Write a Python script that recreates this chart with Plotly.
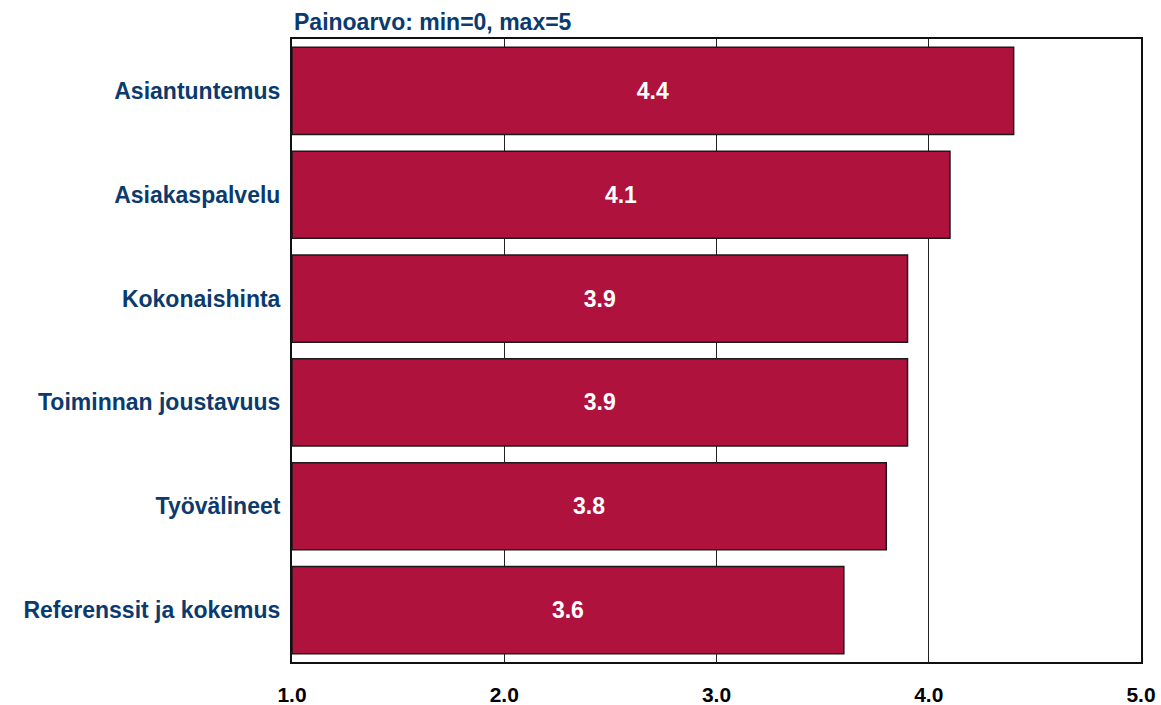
import plotly.graph_objects as go

categories = ["Asiantuntemus", "Asiakaspalvelu", "Kokonaishinta",
              "Toiminnan joustavuus", "Työvälineet", "Referenssit ja kokemus"]
values = [4.4, 4.1, 3.9, 3.9, 3.8, 3.6]
tick_vals = [1, 2, 3, 4, 5]
tick_text = ["1.0", "2.0", "3.0", "4.0", "5.0"]
axis_start = 1.0

FONT = "Liberation Sans"
BLUE = "#0B3A6E"

fig = go.Figure()
fig.add_trace(go.Bar(
    y=categories,
    x=[v - axis_start for v in values],
    base=axis_start,
    orientation="h",
    width=0.84,
    marker=dict(color="#B0123E", line=dict(color="#1a1a1a", width=1.5)),
    text=[f"{v:.1f}" for v in values],
    textposition="inside",
    insidetextanchor="middle",
    textfont=dict(color="white", size=23, family=FONT, weight="bold"),
    hoverinfo="skip",
))

fig.update_layout(
    width=1161, height=705,
    margin=dict(l=292, r=20, t=39, b=43),
    paper_bgcolor="white", plot_bgcolor="white",
    showlegend=False,
    font=dict(family=FONT),
    xaxis=dict(
        range=[1, 5], tickvals=tick_vals, ticktext=tick_text,
        automargin=False, ticklabeloverflow="allow",
        showgrid=True, gridcolor="#222222", gridwidth=1,
        showline=True, linecolor="#111111", linewidth=2, mirror=True,
        ticks="outside", ticklen=13, tickcolor="rgba(0,0,0,0)",
        tickfont=dict(size=21, color="black", family=FONT, weight="bold"),
        zeroline=False,
    ),
    yaxis=dict(
        autorange="reversed", automargin=False,
        showline=True, linecolor="#111111", linewidth=2, mirror=True,
        showgrid=False,
        ticks="outside", ticklen=5, tickcolor="rgba(0,0,0,0)",
        tickfont=dict(size=23, color=BLUE, family=FONT, weight="bold"),
    ),
    annotations=[dict(
        text="Painoarvo: min=0, max=5", xref="paper", yref="paper",
        x=0, y=1, xanchor="left", yanchor="bottom", yshift=2, showarrow=False,
        font=dict(size=23, color=BLUE, family=FONT, weight="bold"),
    )],
)

fig.write_html(
    "out.html",
    config={"displayModeBar": False},
    post_script="document.body.style.margin='0';document.body.style.overflow='hidden';",
)
